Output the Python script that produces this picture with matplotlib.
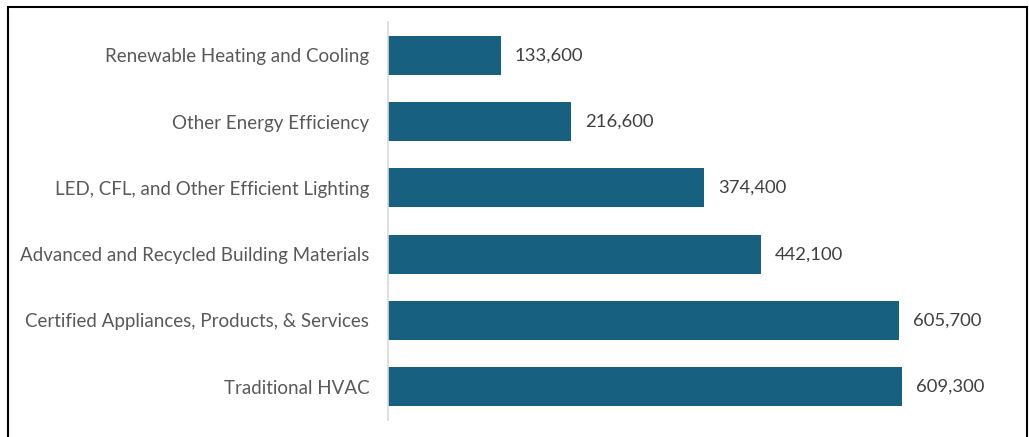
import matplotlib.pyplot as plt
from matplotlib.patches import Rectangle

categories = ["Renewable Heating and Cooling", "Other Energy Efficiency",
              "LED, CFL, and Other Efficient Lighting", "Advanced and Recycled Building Materials",
              "Certified Appliances, Products, & Services", "Traditional HVAC"]
values = [133600, 216600, 374400, 442100, 605700, 609300]

W, H = 1029, 437
fig = plt.figure(figsize=(W / 100, H / 100), dpi=100)
ax = fig.add_axes([388 / W, 17 / H, (979 - 388) / W, 398 / H])

pos = list(range(len(categories)))
ax.barh(pos, values, height=0.59, color="#17607F")
ax.set_xlim(0, 700000)
ax.set_ylim(len(categories) - 0.5, -0.5)
ax.set_yticks(pos)
ax.set_yticklabels(categories, fontsize=13.5, color="#595959", family="Lato")
ax.tick_params(axis="y", length=0, pad=13.5)
ax.set_xticks([])
for s in ["top", "right", "bottom"]:
    ax.spines[s].set_visible(False)
ax.spines["left"].set_color("#D9D9D9")
ax.spines["left"].set_linewidth(1.2)

for p, v in zip(pos, values):
    ax.text(v + 16500, p, f"{v:,}", va="center", ha="left", fontsize=13.3,
            color="#404040", family="Lato")

# border round the picture
fig.patches.append(Rectangle((8 / W, -0.1), (1027 - 8) / W, 1.1 - 7 / H,
                             transform=fig.transFigure, fill=False,
                             edgecolor="black", linewidth=1.5))

fig.savefig("out.png", dpi=100)
